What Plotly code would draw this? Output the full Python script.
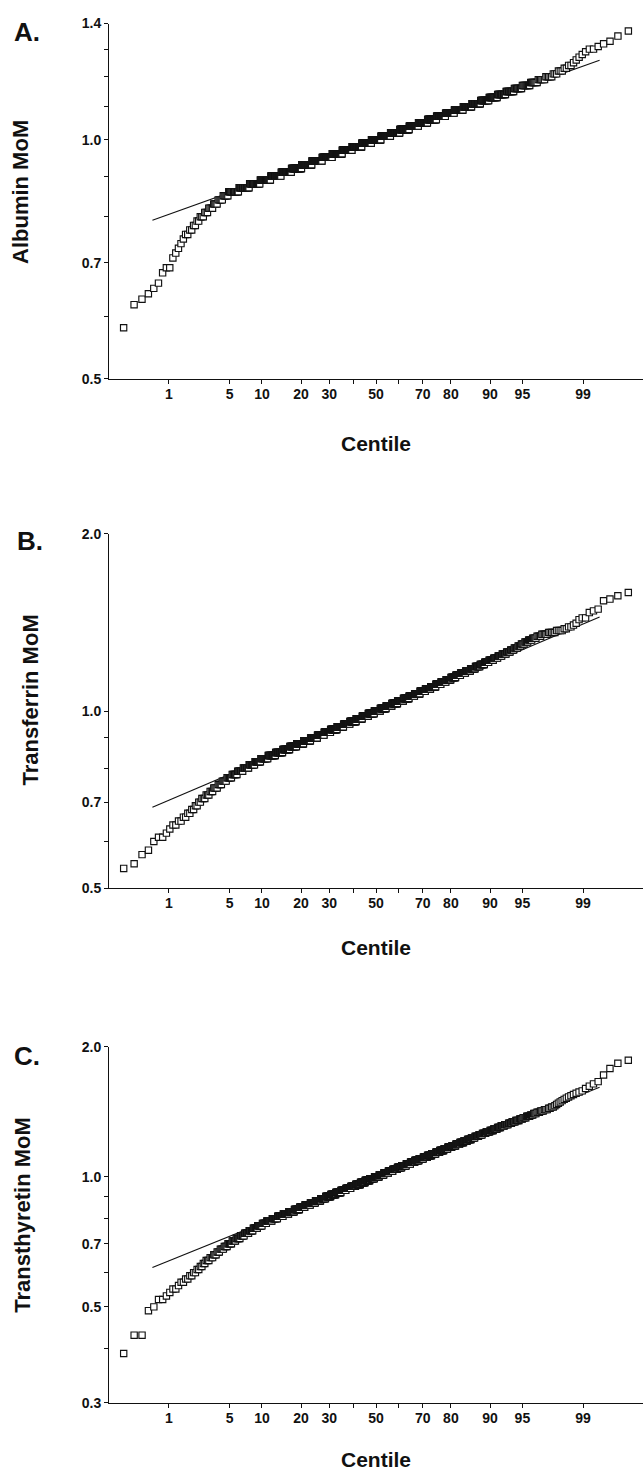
import math
import plotly.graph_objects as go
from statistics import NormalDist

W, H = 643, 1479

# ---------------- shared x (centile, normal-probability scale) ----------------
centile_ticks = [1, 5, 10, 20, 30, 40, 50, 60, 70, 80, 90, 95, 99]
centile_labels = ["1", "5", "10", "20", "30", "", "50", "", "70", "80", "90", "95", "99"]
PLOT_POS_SHIFT = 1.3  # plotting-position constant (extreme points sit near 0.23 / 99.77 centile)

# ---------------- Panel A: Albumin MoM (value -> number of women) ----------------
a_mom = [0.58, 0.62, 0.63, 0.64, 0.65, 0.66, 0.68, 0.69, 0.71, 0.72, 0.73, 0.74, 0.75, 0.76,
         0.77, 0.78, 0.79, 0.80, 0.81, 0.82, 0.83, 0.84, 0.85,
         0.86, 0.87, 0.88, 0.89, 0.90, 0.91, 0.92, 0.93, 0.94, 0.95, 0.96, 0.97, 0.98, 0.99,
         1.00, 1.01, 1.02, 1.03, 1.04, 1.05, 1.06, 1.07, 1.08, 1.09, 1.10, 1.11, 1.12, 1.13,
         1.14, 1.15, 1.16, 1.17, 1.18, 1.19, 1.20,
         1.21, 1.22, 1.23, 1.24, 1.25, 1.26, 1.27, 1.28, 1.29, 1.30, 1.31, 1.32, 1.33, 1.35, 1.37]
a_count = [1, 1, 1, 1, 1, 1, 1, 2, 1, 1, 1, 1, 1, 2,
           2, 2, 2, 3, 3, 4, 4, 5, 6,
           13, 16, 19, 22, 25, 28, 31, 34, 37, 39, 41, 42, 43, 43,
           43, 43, 41, 40, 38, 36, 33, 31, 28, 26, 23, 21, 18, 16,
           14, 12, 10, 9, 7, 6, 5,
           3, 3, 2, 2, 1, 1, 1, 1, 1, 2, 1, 1, 1, 1, 1]
a_line_centile = [0.6, 99.4]
a_line_mom = [0.792, 1.259]
a_yticks = [0.5, 0.6, 0.7, 0.8, 0.9, 1.0, 1.1, 1.2, 1.3, 1.4]
a_ylabels = ["0.5", "", "0.7", "", "", "1.0", "", "", "", "1.4"]
a_yrange = [0.5, 1.4]

# ---------------- Panel B: Transferrin MoM ----------------
b_mom = [0.54, 0.55, 0.57, 0.58, 0.60, 0.61, 0.62, 0.63, 0.64, 0.65, 0.66, 0.67, 0.68, 0.69,
         0.70, 0.71, 0.72, 0.73, 0.74, 0.75, 0.76, 0.77, 0.78, 0.79, 0.80, 0.81, 0.82,
         0.83, 0.84, 0.85, 0.86, 0.87, 0.88, 0.89, 0.90, 0.91, 0.92, 0.93, 0.94, 0.95, 0.96,
         0.97, 0.98, 0.99, 1.00, 1.01, 1.02, 1.03, 1.04, 1.05, 1.06, 1.07, 1.08, 1.09, 1.10,
         1.11, 1.12, 1.13, 1.14, 1.15, 1.16, 1.17, 1.18, 1.19, 1.20, 1.21, 1.22, 1.23, 1.24,
         1.25, 1.26, 1.27, 1.28, 1.29, 1.30,
         1.31, 1.32, 1.33, 1.34, 1.35, 1.36, 1.37, 1.38, 1.39, 1.40, 1.41, 1.43, 1.44, 1.47,
         1.48, 1.49, 1.54, 1.55, 1.57, 1.59]
b_count = [1, 1, 1, 1, 1, 2, 1, 1, 2, 2, 2, 2, 2, 2,
           2, 3, 3, 3, 4, 4, 5, 6, 7, 8, 9, 10, 11,
           15, 17, 18, 19, 20, 22, 23, 24, 25, 25, 26, 27, 27, 27,
           27, 27, 27, 27, 26, 26, 25, 25, 24, 23, 22, 21, 20, 19,
           18, 17, 16, 15, 14, 14, 13, 12, 11, 10, 9, 9, 8, 7,
           7, 6, 5, 5, 4, 4,
           4, 4, 4, 4, 5, 5, 4, 2, 2, 1, 1, 1, 2, 1,
           1, 1, 1, 1, 1, 1]
b_line_centile = [0.6, 99.4]
b_line_mom = [0.686, 1.445]
b_yticks = [0.5, 0.6, 0.7, 0.8, 0.9, 1.0, 2.0]
b_ylabels = ["0.5", "", "0.7", "", "", "1.0", "2.0"]
b_yrange = [0.5, 2.0]

# ---------------- Panel C: Transthyretin MoM ----------------
c_mom = [0.39, 0.43, 0.49, 0.50, 0.52, 0.53, 0.54, 0.55, 0.56, 0.57, 0.58, 0.59, 0.60, 0.61,
         0.62, 0.63, 0.64, 0.65, 0.66, 0.67, 0.68, 0.69, 0.70, 0.71, 0.72, 0.73, 0.74, 0.75,
         0.76, 0.77, 0.78,
         0.79, 0.80, 0.81, 0.82, 0.83, 0.84, 0.85, 0.86, 0.87, 0.88, 0.89, 0.90, 0.91, 0.92,
         0.93, 0.94, 0.95, 0.96, 0.97, 0.98, 0.99, 1.00, 1.01, 1.02, 1.03, 1.04, 1.05, 1.06,
         1.07, 1.08, 1.09, 1.10, 1.11, 1.12, 1.13, 1.14, 1.15, 1.16, 1.17, 1.18, 1.19, 1.20,
         1.21, 1.22, 1.23, 1.24, 1.25, 1.26, 1.27, 1.28, 1.29, 1.30, 1.31, 1.32, 1.33, 1.34,
         1.35, 1.36, 1.37, 1.38, 1.39, 1.40,
         1.41, 1.42, 1.43, 1.44, 1.45, 1.46, 1.47, 1.48, 1.49, 1.50, 1.51, 1.52, 1.53, 1.54,
         1.55, 1.56, 1.57, 1.58, 1.60, 1.62, 1.64, 1.66, 1.72, 1.78, 1.83, 1.86]
c_count = [1, 2, 1, 1, 2, 1, 1, 2, 1, 2, 2, 2, 2, 2,
           2, 2, 3, 3, 3, 3, 4, 4, 5, 5, 6, 6, 7, 7,
           8, 9, 9,
           12, 13, 14, 15, 16, 16, 17, 18, 18, 19, 19, 20, 20, 21,
           21, 21, 21, 21, 21, 21, 21, 21, 21, 20, 20, 20, 19, 19,
           18, 18, 17, 17, 16, 16, 15, 14, 14, 13, 13, 12, 12, 11,
           10, 10, 9, 9, 8, 8, 8, 7, 7, 6, 6, 6, 5, 5,
           5, 4, 4, 4, 3, 3,
           3, 3, 3, 2, 2, 1, 1, 1, 1, 1, 1, 1, 1, 1,
           1, 1, 1, 1, 1, 1, 1, 1, 1, 1, 1, 1]
c_line_centile = [0.6, 99.4]
c_line_mom = [0.617, 1.610]
c_yticks = [0.3, 0.4, 0.5, 0.6, 0.7, 0.8, 0.9, 1.0, 2.0]
c_ylabels = ["0.3", "", "0.5", "", "0.7", "", "", "1.0", "2.0"]
c_yrange = [0.3, 2.0]

# ---------------- helpers ----------------
nd = NormalDist()


def probit(centile):
    return nd.inv_cdf(centile / 100.0)


def probability_points(mom, count):
    ys = []
    for v, c in zip(mom, count):
        ys.extend([v] * c)
    n = len(ys)
    xs = [nd.inv_cdf((i + PLOT_POS_SHIFT) / (n + 1 + 2 * PLOT_POS_SHIFT)) for i in range(1, n + 1)]
    return xs, ys


def px(x):
    return x / W


def py(y):
    return 1 - y / H


FONT = "Liberation Sans, Arial, Helvetica, sans-serif"
INK = "#111111"

panels = [
    (a_mom, a_count, a_line_centile, a_line_mom, a_yticks, a_ylabels, a_yrange, 15.7, 375.0,
     "A.", (27, 24), "Albumin MoM", (21, 186), 440),
    (b_mom, b_count, b_line_centile, b_line_mom, b_yticks, b_ylabels, b_yrange, 531.7, 889.7,
     "B.", (30, 539), "Transferrin MoM", (30, 700), 950),
    (c_mom, c_count, c_line_centile, c_line_mom, c_yticks, c_ylabels, c_yrange, 1050.0, 1410.0,
     "C.", (27, 1059), "Transthyretin MoM", (23, 1220), 1467),
]

X_LEFT_PX, X_RIGHT_PX = 109.0, 643.0

fig = go.Figure()
annotations = []
layout_axes = {}

for k, (mom, cnt, lc, lm, yt, yl, yr, top, bot, letter, lpos, title, tpos, cy) in enumerate(panels, start=1):
    xa = "x" if k == 1 else f"x{k}"
    ya = "y" if k == 1 else f"y{k}"
    xs, ys = probability_points(mom, cnt)
    fig.add_trace(go.Scatter(
        x=[probit(c) for c in lc], y=lm, mode="lines",
        line=dict(color=INK, width=1.1), xaxis=xa, yaxis=ya, showlegend=False, hoverinfo="skip"))
    fig.add_trace(go.Scatter(
        x=xs, y=ys, mode="markers",
        marker=dict(symbol="square", size=6.3, color="white", line=dict(color=INK, width=1.15)),
        xaxis=xa, yaxis=ya, showlegend=False))

    xkey = "xaxis" if k == 1 else f"xaxis{k}"
    ykey = "yaxis" if k == 1 else f"yaxis{k}"
    layout_axes[xkey] = dict(
        domain=[px(X_LEFT_PX), px(X_RIGHT_PX)], anchor=ya, range=[-3.0, 3.0],
        tickmode="array", tickvals=[probit(c) for c in centile_ticks], ticktext=centile_labels,
        showgrid=False, zeroline=False, showline=True, linecolor=INK, linewidth=1,
        ticks="outside", ticklen=4, tickwidth=1, tickcolor=INK, ticklabelstandoff=-2,
        tickfont=dict(family=FONT, size=14, color=INK, weight="bold"))
    layout_axes[ykey] = dict(
        domain=[py(bot), py(top)], anchor=xa, type="log",
        range=[math.log10(yr[0]), math.log10(yr[1])],
        tickmode="array", tickvals=yt, ticktext=yl,
        showgrid=False, zeroline=False, showline=True, linecolor=INK, linewidth=1,
        ticks="outside", ticklen=4, tickwidth=1, tickcolor=INK,
        tickfont=dict(family=FONT, size=14, color=INK, weight="bold"))

    annotations.append(dict(text=f"<b>{letter}</b>", x=px(lpos[0]), y=py(lpos[1]), xref="paper", yref="paper",
                            xanchor="center", yanchor="middle", showarrow=False,
                            font=dict(family=FONT, size=26, color=INK)))
    annotations.append(dict(text=f"<b>{title}</b>", x=px(tpos[0]), y=py(tpos[1]), xref="paper", yref="paper",
                            xanchor="center", yanchor="middle", showarrow=False, textangle=-90,
                            font=dict(family=FONT, size=22, color=INK)))
    annotations.append(dict(text="<b>Centile</b>", x=px(376), y=py(cy), xref="paper", yref="paper",
                            xanchor="center", yanchor="middle", showarrow=False,
                            font=dict(family=FONT, size=21, color=INK)))

fig.update_layout(
    width=W, height=H, margin=dict(l=0, r=0, t=0, b=0),
    paper_bgcolor="white", plot_bgcolor="white", hovermode=False,
    annotations=annotations, **layout_axes)

fig.write_html("out.html", config={"displayModeBar": False, "staticPlot": True},
               post_script="document.body.style.margin='0';")
